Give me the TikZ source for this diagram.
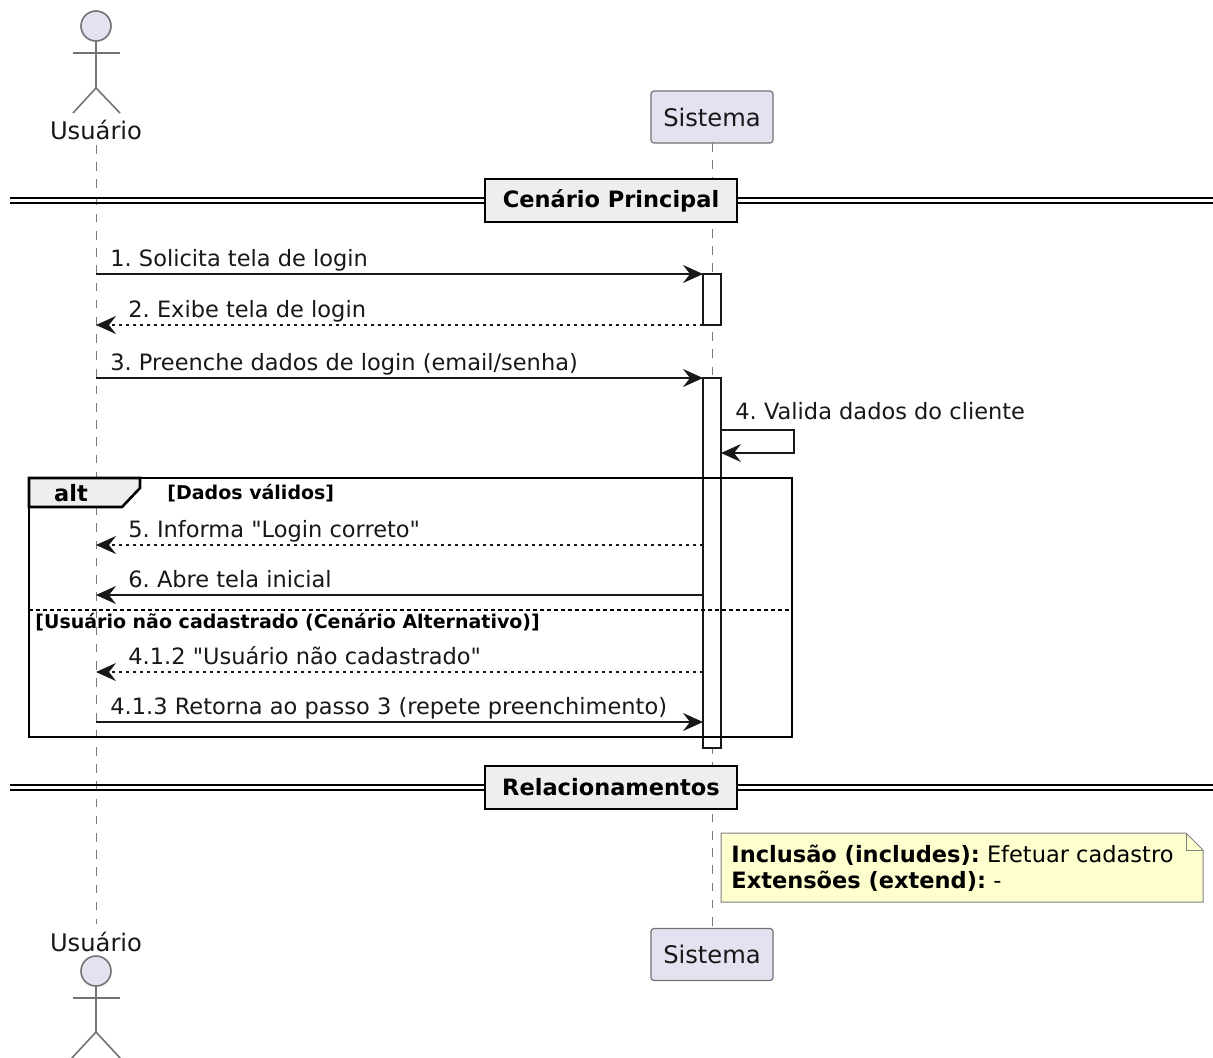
\documentclass[tikz,border=0pt]{standalone}
\usepackage{fontspec}
\setmainfont{DejaVu Sans}
\usetikzlibrary{arrows.meta}
\definecolor{partfill}{HTML}{E2E2F0}
\definecolor{divfill}{HTML}{EEEEEE}
\definecolor{notefill}{HTML}{FEFECE}
\definecolor{ink}{HTML}{181818}
\definecolor{lifegray}{HTML}{7A7A7A}
\newcommand{\msgfnt}{\fontsize{11.25}{13.5}\selectfont}
\newcommand{\partfnt}{\fontsize{12.1}{14.5}\selectfont}
\newcommand{\guardfnt}{\fontsize{9.5}{11.5}\selectfont\bfseries}
\frenchspacing
\begin{document}
\begin{tikzpicture}[x=0.5pt,y=-0.5pt,
  msg/.style={draw=ink, line width=0.85pt, -{Stealth[length=10pt,width=9pt,inset=3.5pt]}},
  reply/.style={msg, dash pattern=on 1.75pt off 1.75pt},
  lifeline/.style={draw=lifegray, line width=0.5pt, dash pattern=on 4.3pt off 4.3pt},
  lbl/.style={inner sep=0pt, anchor=base west, font=\msgfnt, text=ink},
  partbox/.style={draw=black!55, line width=0.6pt, fill=partfill, rounded corners=1.5pt,
    minimum width=61pt, minimum height=26pt, inner sep=0pt, font=\partfnt, text=ink},
  actorline/.style={draw=black!55, line width=0.8pt},
  actorhead/.style={circle, draw=black!55, line width=0.8pt, fill=partfill, minimum size=15pt, inner sep=0pt},
  actorlbl/.style={inner sep=0pt, anchor=base, font=\partfnt, text=ink},
  actbox/.style={draw=ink, line width=0.9pt, fill=white},
  divbox/.style={draw=black, line width=1.4pt, fill=divfill, minimum width=126pt, minimum height=21.5pt,
    inner sep=0pt, font=\msgfnt\bfseries},
  divline/.style={draw=black, line width=0.8pt},
  framebox/.style={draw=black, line width=1.3pt},
  sepline/.style={draw=black, line width=0.6pt, dash pattern=on 1.75pt off 1.75pt},
  guard/.style={inner sep=0pt, anchor=base west, font=\guardfnt},
  notebox/.style={draw=black!50, line width=0.5pt, fill=notefill}
]
\useasboundingbox (0,0) rectangle (1213,1057);
\fill[white] (0,0) rectangle (1213,1057);

% lifelines
\coordinate (ulTop) at (96,145);
\coordinate (ulBot) at (96,924);
\coordinate (slTop) at (712,143);
\coordinate (slBot) at (712,928);
\draw[lifeline] (ulTop) -- (ulBot);
\draw[lifeline] (slTop) -- (slBot);

% top actor
\node[actorhead] (uhead) at (96,26) {};
\coordinate (uhip) at (96,88);
\coordinate (uarmL) at (73,53);
\coordinate (uarmR) at (120,53);
\coordinate (ulegL) at (73,113);
\coordinate (ulegR) at (120,113);
\draw[actorline] (uhead.south) -- (uhip);
\draw[actorline] (uarmL) -- (uarmR);
\draw[actorline] (ulegL) -- (uhip) -- (ulegR);
\node[actorlbl] (ulabel) at (96,139) {Usuário};

% top participant
\node[partbox] (sys) at (712,117) {Sistema};

% divider 1
\draw[divline] (10,198) -- (1213,198);
\draw[divline] (10,203) -- (1213,203);
\node[divbox] (div1) at (611,200.5) {Cenário Principal};

% activations
\draw[actbox] (703,274) rectangle (721,325);
\draw[actbox] (703,378) rectangle (721,748);

% messages
\coordinate (u1) at (96,274);  \coordinate (s1) at (703,274);
\coordinate (u2) at (96,325);  \coordinate (s2) at (703,325);
\coordinate (u3) at (96,378);  \coordinate (s3) at (703,378);
\coordinate (u5) at (96,545);  \coordinate (s5) at (703,545);
\coordinate (u6) at (96,595);  \coordinate (s6) at (703,595);
\coordinate (u7) at (96,672);  \coordinate (s7) at (703,672);
\coordinate (u8) at (96,722);  \coordinate (s8) at (703,722);
\draw[msg] (u1) -- (s1);
\node[lbl] (m1) at (110,266) {1. Solicita tela de login};
\draw[reply] (s2) -- (u2);
\node[lbl] (m2) at (128,317) {2. Exibe tela de login};
\draw[msg] (u3) -- (s3);
\node[lbl] (m3) at (110,370) {3. Preenche dados de login (email/senha)};

% self message
\coordinate (sa) at (721,430);
\coordinate (sb) at (794,430);
\coordinate (sc) at (794,453);
\coordinate (sd) at (721,453);
\draw[msg] (sa) -- (sb) -- (sc) -- (sd);
\node[lbl] (m4) at (735,419) {4. Valida dados do cliente};

% alt frame
\draw[framebox] (29,478) rectangle (792,737);
\filldraw[framebox, fill=divfill] (29,478) -- (140,478) -- (140,488) -- (122,507) -- (29,507) -- cycle;
\node[inner sep=0pt, anchor=base, font=\msgfnt\bfseries] (altlbl) at (71,501) {alt};
\node[guard] (g1) at (167,499) {[Dados válidos]};

\draw[reply] (s5) -- (u5);
\node[lbl] (m5) at (128,537) {5. Informa \textquotedbl Login correto\textquotedbl};
\draw[msg] (s6) -- (u6);
\node[lbl] (m6) at (128,587) {6. Abre tela inicial};

\draw[sepline] (29,610) -- (792,610);
\node[guard] (g2) at (35,628) {[Usuário não cadastrado (Cenário Alternativo)]};

\draw[reply] (s7) -- (u7);
\node[lbl] (m7) at (128,664) {4.1.2 \textquotedbl Usuário não cadastrado\textquotedbl};
\draw[msg] (u8) -- (s8);
\node[lbl] (m8) at (110,714) {4.1.3 Retorna ao passo 3 (repete preenchimento)};

% divider 2
\draw[divline] (10,785) -- (1213,785);
\draw[divline] (10,790) -- (1213,790);
\node[divbox] (div2) at (611,787.5) {Relacionamentos};

% note
\filldraw[notebox] (721,833) -- (1186,833) -- (1203,850) -- (1203,902) -- (721,902) -- cycle;
\draw[notebox, fill=none] (1186,833) -- (1186,850) -- (1203,850);
\node[lbl, text=black] (n1) at (731,862) {\textbf{Inclusão (includes):} Efetuar cadastro};
\node[lbl, text=black] (n2) at (731,888) {\textbf{Extensões (extend):} -};

% bottom participant
\node[partbox] (sysb) at (712,954.5) {Sistema};

% bottom actor
\node[actorlbl] (ulabelb) at (96,951) {Usuário};
\node[actorhead] (uheadb) at (96,971) {};
\coordinate (uhipb) at (96,1032);
\coordinate (uarmLb) at (73,998);
\coordinate (uarmRb) at (120,998);
\coordinate (ulegLb) at (71,1059);
\coordinate (ulegRb) at (121,1059);
\draw[actorline] (uheadb.south) -- (uhipb);
\draw[actorline] (uarmLb) -- (uarmRb);
\draw[actorline] (ulegLb) -- (uhipb) -- (ulegRb);
\end{tikzpicture}
\end{document}
